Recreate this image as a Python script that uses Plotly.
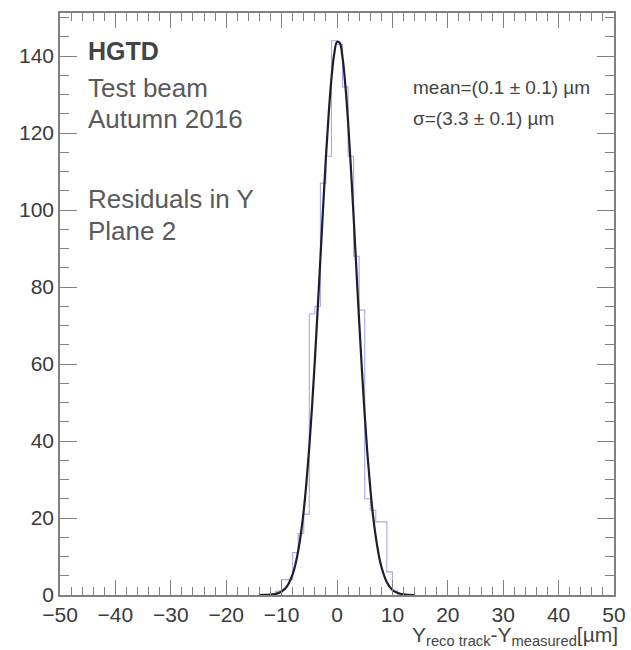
import plotly.graph_objects as go

# ---- data ----
bin_low = list(range(-12, 12))          # lower edges of 1 µm bins
bin_width = 1.0
counts = [0, 1, 4, 4, 11, 16, 21, 73, 75, 107, 114, 144,
          143, 132, 114, 88, 74, 25, 22, 19, 19, 6, 1, 0]

fit_x = [-14, -13, -12, -11, -10, -9, -8, -7.5, -7, -6.5, -6, -5.5, -5, -4.5, -4,
         -3.5, -3, -2.5, -2, -1.5, -1, -0.5, 0, 0.5, 1, 1.5, 2, 2.5, 3, 3.5, 4,
         4.5, 5, 5.5, 6, 6.5, 7, 7.5, 8, 9, 10, 11, 12, 13, 14]
fit_y = [0, 0.03, 0.1, 0.3, 0.9, 2.3, 5.4, 8.0, 11.5, 16.1, 22.0, 29.5, 38.5, 49.0, 60.9,
         73.8, 87.3, 100.9, 113.7, 125.0, 134.2, 140.6, 143.7, 143.4, 139.6, 132.6, 122.9,
         111.2, 98.2, 84.6, 71.1, 58.4, 46.8, 36.5, 27.9, 20.7, 15.1, 10.7, 7.4, 3.3, 1.3,
         0.5, 0.16, 0.05, 0]

x_range = [-50, 50]
y_range = [0, 151.2]
x_ticks = [-50, -40, -30, -20, -10, 0, 10, 20, 30, 40, 50]
y_ticks = [0, 20, 40, 60, 80, 100, 120, 140]

label_lines = ["<b>HGTD</b>", "Test beam", "Autumn 2016", "Residuals in Y", "Plane 2"]
fit_lines = ["mean=(0.1 ± 0.1) µm", "σ=(3.3 ± 0.1) µm"]
x_title = "Y<sub>reco track</sub>-Y<sub>measured</sub>[µm]"

# ---- figure ----
W, H = 631, 650
L, R, T, B = 60, 17, 13, 55
pw, ph = W - L - R, H - T - B

def px(xp):
    return (xp - L) / pw

def py(yp):
    return (H - B - yp) / ph

hist_x = [x for x in bin_low] + [bin_low[-1] + bin_width]
hist_y = counts + [counts[-1]]

fig = go.Figure()
fig.add_trace(go.Scatter(x=hist_x, y=hist_y, mode="lines", line_shape="hv",
                         line=dict(color="rgba(130,130,225,0.7)", width=1.1),
                         hoverinfo="skip", showlegend=False))
fig.add_trace(go.Scatter(x=fit_x, y=fit_y, mode="lines", line_shape="spline",
                         line=dict(color="#1e1e2c", width=2.2),
                         hoverinfo="skip", showlegend=False))

font_fam = "Liberation Sans, Arial, Helvetica, sans-serif"
axis_col = "#808080"
tick_font = dict(family=font_fam, size=21, color="#3a3a3a")

fig.update_xaxes(range=x_range, tickvals=x_ticks, ticks="inside", ticklen=15,
                 tickwidth=1.2, tickcolor=axis_col, showline=True, linecolor=axis_col,
                 linewidth=1.5, mirror="ticks", showgrid=False, zeroline=False,
                 tickfont=tick_font,
                 minor=dict(dtick=2, ticks="inside", ticklen=8, tickcolor=axis_col,
                            tickwidth=1, showgrid=False))
fig.update_yaxes(range=y_range, tickvals=y_ticks, ticks="inside", ticklen=17,
                 tickwidth=1.2, tickcolor=axis_col, showline=True, linecolor=axis_col,
                 linewidth=1.5, mirror="ticks", showgrid=False, zeroline=False,
                 tickfont=tick_font,
                 minor=dict(dtick=5, ticks="inside", ticklen=9, tickcolor=axis_col,
                            tickwidth=1, showgrid=False))

annos = []
left_y = [51.5, 87.5, 119, 198.5, 231]
for i, t in enumerate(label_lines):
    annos.append(dict(text=t, x=px(86), y=py(left_y[i]), xref="paper", yref="paper",
                      xanchor="left", yanchor="middle", showarrow=False,
                      font=dict(family=font_fam, size=26 if i else 25,
                                color="#444" if i == 0 else "#5a5a5a")))
right_y = [87, 118]
for i, t in enumerate(fit_lines):
    annos.append(dict(text=t, x=px(411), y=py(right_y[i]), xref="paper", yref="paper",
                      xanchor="left", yanchor="middle", showarrow=False,
                      font=dict(family=font_fam, size=19, color="#444")))
annos.append(dict(text=x_title, x=px(619), y=py(636), xref="paper", yref="paper",
                  xanchor="right", yanchor="middle", showarrow=False, borderpad=0,
                  font=dict(family=font_fam, size=21, color="#444")))

fig.update_layout(width=W, height=H, margin=dict(l=L, r=R, t=T, b=B, autoexpand=False),
                  plot_bgcolor="white", paper_bgcolor="white",
                  annotations=annos, showlegend=False)

fig.write_html("out.html", config={"displayModeBar": False},
               post_script="document.body.style.margin='0';document.body.style.overflow='hidden';")
